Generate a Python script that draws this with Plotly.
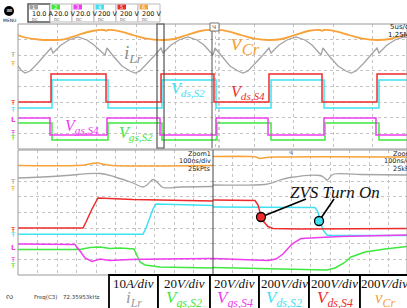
import plotly.graph_objects as go

W, H = 407, 308

# ---------------- main acquisition (5 us/div), vertical values in screen divisions
vds_s4_t = [0, 4.19, 11.17, 18.15, 24.87, 31.85, 38.58, 45.56, 49.37]
vds_s4_v = [3.01, 4.80, 3.01, 4.80, 3.01, 4.80, 3.01, 4.80, 4.80]
vds_s2_t = [0, 4.31, 11.42, 18.27, 25.13, 32.11, 38.83, 45.81, 49.37]
vds_s2_v = [2.62, 4.42, 2.62, 4.42, 2.62, 4.42, 2.62, 4.42, 4.42]
vgs_s4_t = [0, 4.06, 11.29, 18.02, 25.13, 31.73, 38.83, 45.43, 49.37]
vgs_s4_v = [1.98, 0.90, 1.98, 0.90, 1.98, 0.90, 1.98, 0.90, 0.90]
vgs_s2_t = [0, 4.31, 11.42, 18.27, 25.25, 32.11, 38.96, 45.81, 49.37]
vgs_s2_v = [1.66, 0.58, 1.66, 0.58, 1.66, 0.58, 1.66, 0.58, 0.58]

ilr_t = [0, 0.38, 0.89, 1.52, 2.41, 3.43, 4.19, 4.44, 5.46, 6.47, 7.61, 8.76, 9.64,
         11.04, 11.29, 12.18, 13.20, 14.21, 14.85, 15.48, 16.37, 17.39, 18.15, 18.40,
         19.42, 20.43, 21.57, 22.72, 23.60, 24.75, 25.00, 25.89, 26.90, 27.92, 28.55,
         29.19, 30.08, 31.09, 31.85, 32.11, 33.12, 34.14, 35.28, 36.42, 37.31, 38.45,
         38.70, 39.59, 40.61, 41.62, 42.26, 42.89, 43.78, 44.80, 45.56, 45.81, 46.83,
         47.84, 48.98, 49.36]
ilr_v = [5.312, 5.056, 4.864, 4.992, 5.44, 6.016, 6.464, 6.144, 6.656, 6.976, 7.168, 6.976, 6.656,
         6.016, 6.464, 5.888, 5.312, 4.992, 4.864, 4.992, 5.44, 6.016, 6.464, 6.144,
         6.656, 6.976, 7.168, 6.976, 6.656, 6.016, 6.464, 5.888, 5.312, 4.992, 4.864,
         4.992, 5.44, 6.016, 6.464, 6.144, 6.656, 6.976, 7.168, 6.976, 6.656, 6.016,
         6.464, 5.888, 5.312, 4.992, 4.864, 4.992, 5.44, 6.016, 6.464, 6.144, 6.656,
         6.976, 7.168, 7.136]

vcr_t = [0, 0.89, 2.54, 4.19, 5.84, 7.61, 9.39, 10.91, 11.17, 11.42, 12.94, 14.59, 16.37,
         18.15, 19.80, 21.45, 23.10, 24.62, 24.87, 25.13, 26.65, 28.30, 30.08, 31.85,
         33.50, 35.15, 36.80, 38.32, 38.58, 38.83, 40.35, 42.00, 43.78, 45.56, 47.21,
         48.86, 49.36]
vcr_v = [7.296, 7.136, 7.008, 6.976, 7.021, 7.296, 7.552, 7.616, 7.565, 7.616, 7.533, 7.296, 7.059,
         6.976, 7.04, 7.296, 7.552, 7.616, 7.565, 7.616, 7.533, 7.296, 7.059, 6.976,
         7.04, 7.296, 7.552, 7.616, 7.565, 7.616, 7.533, 7.296, 7.059, 6.976, 7.04,
         7.264, 7.296]

# ---------------- Zoom1 (100 ns/div), time in ns
z1_vcr_t = [0, 343.6, 379.5, 410.2, 441.0, 482.0, 1000]
z1_vcr_v = [7.008, 7.04, 7.136, 7.168, 7.072, 7.008, 7.008]
z1_ilr_t = [0, 215.4, 420.5, 497.4, 589.7, 641.0, 666.6, 692.3, 717.9, 743.6, 830.7, 1000]
z1_ilr_v = [6.208, 6.336, 6.496, 6.272, 5.888, 5.632, 5.824, 6.112, 5.888, 5.6, 5.632, 5.664]
z1_vds4_t = [0, 333.3, 348.7, 379.5, 410.2, 589.7, 1000]
z1_vds4_v = [3.008, 3.008, 3.392, 4.224, 4.928, 4.832, 4.736]
z1_vds2_t = [0, 641.0, 656.4, 676.9, 692.3, 707.7, 1000]
z1_vds2_v = [2.605, 2.605, 3.008, 3.648, 4.224, 4.544, 4.448]
z1_vgs4_t = [0, 292.3, 317.9, 343.6, 379.5, 420.5, 471.8, 574.3, 728.2, 1000]
z1_vgs4_v = [1.984, 1.952, 1.536, 1.088, 0.864, 1.024, 0.928, 0.992, 1.024, 1.056]
z1_vgs2_t = [0, 317.9, 369.2, 420.5, 471.8, 523.1, 594.8, 610.2, 625.6, 651.3, 728.2, 856.4, 1000]
z1_vgs2_v = [1.632, 1.632, 1.76, 1.792, 1.696, 1.728, 1.664, 1.28, 0.832, 0.64, 0.512, 0.48, 0.448]

# ---------------- Zoom2 (100 ns/div), time in ns
z2_vcr_t = [0, 189.7, 220.5, 241.0, 271.8, 343.6, 994.8]
z2_vcr_v = [7.584, 7.584, 7.552, 7.456, 7.52, 7.552, 7.552]
z2_ilr_t = [0, 266.7, 302.6, 343.6, 394.9, 548.7, 569.2, 584.6, 605.1, 620.5, 753.8, 994.8]
z2_ilr_v = [5.76, 5.792, 5.888, 6.08, 6.24, 6.368, 6.24, 6.08, 6.336, 6.464, 6.432, 6.4]
z2_vds4_t = [0, 215.4, 230.8, 246.2, 261.5, 282.0, 307.7, 446.1, 994.8]
z2_vds4_v = [4.8, 4.768, 4.48, 3.776, 3.392, 3.104, 2.976, 2.944, 2.976]
z2_vds2_t = [0, 523.1, 538.5, 548.7, 564.1, 584.6, 600.0, 994.8]
z2_vds2_v = [4.352, 4.32, 4.032, 3.456, 2.88, 2.56, 2.528, 2.528]
z2_vgs4_t = [0, 189.7, 282.0, 323.1, 359.0, 405.1, 451.3, 548.7, 651.3, 994.8]
z2_vgs4_v = [1.056, 0.992, 0.928, 1.024, 1.344, 1.984, 2.336, 2.4, 2.464, 2.56]
z2_vgs2_t = [0, 241.0, 466.6, 584.6, 625.6, 671.8, 707.7, 779.5, 882.0, 994.8]
z2_vgs2_v = [0.48, 0.416, 0.32, 0.32, 0.448, 0.768, 1.152, 1.472, 1.664, 1.824]

# ZVS turn-on markers (Zoom2 coordinates)
zvs_t = [246.2, 543.6]
zvs_v = [3.712, 3.456]
zvs_label_t = [476.9, 620.5]
zvs_label_v = [4.864, 4.864]

# channel header
ch_names = ["1", "2", "3", "4", "5", "6"]
ch_scale = ["10.0 A", "20.0 V", "20.0 V", "200 V", "200 V", "200 V"]
div_labels = ["10<i>A/div</i>", "20<i>V/div</i>", "20<i>V/div</i>",
              "200<i>V/div</i>", "200<i>V/div</i>", "200<i>V/div</i>"]
sig_labels = ["<i>i</i><sub><i>Lr</i></sub>", "<i>V</i><sub><i>gs,S2</i></sub>",
              "<i>V</i><sub><i>gs,S4</i></sub>", "<i>V</i><sub><i>ds,S2</i></sub>",
              "<i>V</i><sub><i>ds,S4</i></sub>", "<i>v</i><sub><i>Cr</i></sub>"]

C_GRAY = "#a4a4a4"
C_GREEN = "#3ee83e"
C_MAG = "#ef3cef"
C_CYAN = "#3ee2f2"
C_RED = "#ee2b2b"
C_ORANGE = "#f8a23a"
ch_colors = [C_GRAY, C_GREEN, C_MAG, C_CYAN, C_RED, C_ORANGE]


def px(x):
    return x / W


def py(y):
    return 1 - y / H


fig = go.Figure()

LW = 1.5


def add(x, y, color, xa, ya, shape="linear", width=LW):
    fig.add_trace(go.Scatter(x=x, y=y, mode="lines", xaxis=xa, yaxis=ya,
                             line=dict(color=color, width=width, shape=shape),
                             hoverinfo="skip", showlegend=False))


# upper
add(vcr_t, vcr_v, C_ORANGE, "x", "y", "spline", 1.8)
add(ilr_t, ilr_v, C_GRAY, "x", "y", "linear", 1.3)
add(vds_s2_t, vds_s2_v, C_CYAN, "x", "y", "hv")
add(vds_s4_t, vds_s4_v, C_RED, "x", "y", "hv")
add(vgs_s2_t, vgs_s2_v, C_GREEN, "x", "y", "hv")
add(vgs_s4_t, vgs_s4_v, C_MAG, "x", "y", "hv")
# zoom 1
add(z1_vcr_t, z1_vcr_v, C_ORANGE, "x2", "y2", "spline", 1.6)
add(z1_ilr_t, z1_ilr_v, C_GRAY, "x2", "y2", "spline", 1.3)
add(z1_vds2_t, z1_vds2_v, C_CYAN, "x2", "y2")
add(z1_vds4_t, z1_vds4_v, C_RED, "x2", "y2")
add(z1_vgs2_t, z1_vgs2_v, C_GREEN, "x2", "y2")
add(z1_vgs4_t, z1_vgs4_v, C_MAG, "x2", "y2")
# zoom 2
add(z2_vcr_t, z2_vcr_v, C_ORANGE, "x3", "y3", "spline", 1.6)
add(z2_ilr_t, z2_ilr_v, C_GRAY, "x3", "y3", "spline", 1.3)
add(z2_vds2_t, z2_vds2_v, C_CYAN, "x3", "y3")
add(z2_vds4_t, z2_vds4_v, C_RED, "x3", "y3")
add(z2_vgs2_t, z2_vgs2_v, C_GREEN, "x3", "y3")
add(z2_vgs4_t, z2_vgs4_v, C_MAG, "x3", "y3")

# ZVS pointer lines and dots
for i in range(2):
    fig.add_trace(go.Scatter(x=[zvs_t[i], zvs_label_t[i]], y=[zvs_v[i], zvs_label_v[i]],
                             mode="lines", xaxis="x3", yaxis="y3",
                             line=dict(color="black", width=1.6),
                             hoverinfo="skip", showlegend=False))
fig.add_trace(go.Scatter(x=zvs_t, y=zvs_v, mode="markers", xaxis="x3", yaxis="y3",
                         marker=dict(size=9, color=[C_RED, C_CYAN],
                                     line=dict(color="black", width=1.3)),
                         hoverinfo="skip", showlegend=False))

grid = dict(showgrid=True, gridcolor="#c4c4c4", griddash="dot", gridwidth=1,
            zeroline=False, showticklabels=False, ticks="", showline=False, fixedrange=True)

x0 = px(18)
xm = px(213)
fig.update_layout(
    width=W, height=H, margin=dict(l=0, r=0, t=0, b=0, pad=0, autoexpand=False),
    paper_bgcolor="white", plot_bgcolor="white",
    xaxis=dict(domain=[x0, 1], range=[0, 49.365], dtick=5, tick0=0, **grid),
    yaxis=dict(domain=[py(149), py(24)], range=[0, 8], dtick=1, tick0=0, **grid),
    xaxis2=dict(domain=[x0, xm], range=[0, 1000], dtick=100, tick0=0, anchor="y2", **grid),
    yaxis2=dict(domain=[py(275), py(150)], range=[0, 8], dtick=1, tick0=0, anchor="x2", **grid),
    xaxis3=dict(domain=[xm, 1], range=[0, 994.8], dtick=100, tick0=0, anchor="y3", **grid),
    yaxis3=dict(domain=[py(275), py(150)], range=[0, 8], dtick=1, tick0=0, anchor="x3", **grid),
)

shapes = []
# panel borders
shapes.append(dict(type="rect", xref="paper", yref="paper", x0=x0, x1=1, y0=py(149), y1=py(24),
                   line=dict(color="#9a9a9a", width=1)))
shapes.append(dict(type="rect", xref="paper", yref="paper", x0=x0, x1=1, y0=py(275), y1=py(150),
                   line=dict(color="#9a9a9a", width=1)))
shapes.append(dict(type="line", xref="paper", yref="paper", x0=xm, x1=xm, y0=py(275), y1=py(150),
                   line=dict(color="#444", width=1)))
# zoom windows marked on the main trace
shapes.append(dict(type="rect", xref="x", yref="paper", x0=17.64, x1=18.53, y0=py(148), y1=py(24),
                   line=dict(color="#555", width=1.2)))
shapes.append(dict(type="line", xref="x", yref="paper", x0=24.62, x1=24.62, y0=py(148), y1=py(24),
                   line=dict(color="#555", width=1)))
shapes.append(dict(type="line", xref="x", yref="paper", x0=25.51, x1=25.51, y0=py(148), y1=py(24),
                   line=dict(color="#999", width=1, dash="dot")))
shapes.append(dict(type="rect", xref="paper", yref="paper", x0=px(210), x1=px(219), y0=py(31), y1=py(23),
                   line=dict(color="#777", width=1), fillcolor="white"))

# header channel boxes
for i in range(6):
    bx = 28 + 22 * i
    shapes.append(dict(type="rect", xref="paper", yref="paper", x0=px(bx), x1=px(bx + 22),
                       y0=py(22), y1=py(4),
                       line=dict(color="#555" if i == 0 else "#bbb", width=1.5 if i == 0 else 1),
                       fillcolor="white"))
    shapes.append(dict(type="rect", xref="paper", yref="paper", x0=px(bx + 1.5), x1=px(bx + 10),
                       y0=py(9.5), y1=py(4.5), line=dict(width=0), fillcolor=ch_colors[i]))
# MENU icon
shapes.append(dict(type="circle", xref="paper", yref="paper", x0=px(4), x1=px(14), y0=py(16), y1=py(6),
                   fillcolor="black", line=dict(width=0)))
# bottom label boxes
box_x = [109, 158, 210, 259, 309, 360, 411]
for i in range(6):
    shapes.append(dict(type="rect", xref="paper", yref="paper", x0=px(box_x[i]), x1=px(box_x[i + 1]),
                       y0=py(312), y1=py(275), line=dict(color="black", width=1.8),
                       fillcolor="white"))

fig.update_layout(shapes=shapes)

ann = []


def text(x, y, s, size=7, color="#222", family="DejaVu Sans", xanchor="center", yanchor="middle"):
    ann.append(dict(x=px(x), y=py(y), xref="paper", yref="paper", text=s, showarrow=False,
                    font=dict(size=size, color=color, family=family),
                    xanchor=xanchor, yanchor=yanchor, borderpad=0))


SERIF = "Liberation Serif"
# upper waveform labels
text(133, 54, "<i>i</i><sub><i>Lr</i></sub>", 19, "#8e8e8e", SERIF)
text(245, 44, "<i>v</i><sub><i>Cr</i></sub>", 24, C_ORANGE, SERIF)
text(188, 89, "<i>V</i><sub><i>ds,S2</i></sub>", 16, C_CYAN, SERIF)
text(248, 92, "<i>V</i><sub><i>ds,S4</i></sub>", 16, C_RED, SERIF)
text(82, 126, "<i>V</i><sub><i>gs,S4</i></sub>", 16, C_MAG, SERIF)
text(136, 133, "<i>V</i><sub><i>gs,S2</i></sub>", 16, C_GREEN, SERIF)
text(335, 192, "<i>ZVS Turn On</i>", 17, "#111", SERIF)

# scope info text
text(389, 27, "5us/div", 7, "#222", xanchor="left")
text(387, 35, "1.25MPts", 7, "#222", xanchor="left")
for x_r, lines in [(212, ["Zoom1", "100ns/div", "25kPts"]), (417, ["Zoom2", "100ns/div", "25kPts"])]:
    for k, s in enumerate(lines):
        text(x_r, 153.5 + 7.5 * k, s, 6.5, "#222", xanchor="right")
text(214.5, 27, "ч", 7, "#555")
text(291, 153, "ч", 7, "#555")

# header text
text(9, 11, "≡", 8, "white")
text(9, 20, "MENU", 4.5, "#111")
for i in range(6):
    bx = 28 + 22 * i
    text(bx + 5.7, 7, ch_names[i], 5, "white")
    text(bx + 3, 14, ch_scale[i], 6.5, "#111", xanchor="left")
    text(bx + 3, 19.5, "DC", 4, "#666", xanchor="left")

# left offset markers
for y, c, s in [(55, C_GRAY, "Ŧ"), (64, C_ORANGE, "Ŧ"), (103, C_RED, "Ŧ"), (110, C_CYAN, "Ŧ"),
                (120, C_MAG, "<b>L</b>"), (133, C_MAG, "Ŧ"), (138, C_GREEN, "Ŧ"),
                (182, C_GRAY, "Ŧ"), (189, C_ORANGE, "Ŧ"), (230, C_RED, "Ŧ"), (235, C_CYAN, "Ŧ"),
                (248, C_MAG, "<b>L</b>"), (260, C_MAG, "Ŧ"), (266, C_GREEN, "Ŧ")]:
    text(13.5, y, s, 7, c)

# bottom info
text(9, 296, "ᔓ", 8, "#666")
text(33, 297, "Freq(C3)", 5.5, "#333", xanchor="left")
text(62, 297, "72.35953kHz", 5.5, "#333", xanchor="left")

for i in range(6):
    cx = (box_x[i] + min(box_x[i + 1], 409)) / 2
    text(cx, 283, div_labels[i], 13, "#111", SERIF)
    col = "#9a9a9a" if i == 0 else ch_colors[i]
    text(cx, 299, sig_labels[i], 17, col, SERIF)

fig.update_layout(annotations=ann)

fig.write_html("out.html", config={"displayModeBar": False, "staticPlot": True},
               post_script="document.body.style.margin='0';document.body.style.overflow='hidden';")
